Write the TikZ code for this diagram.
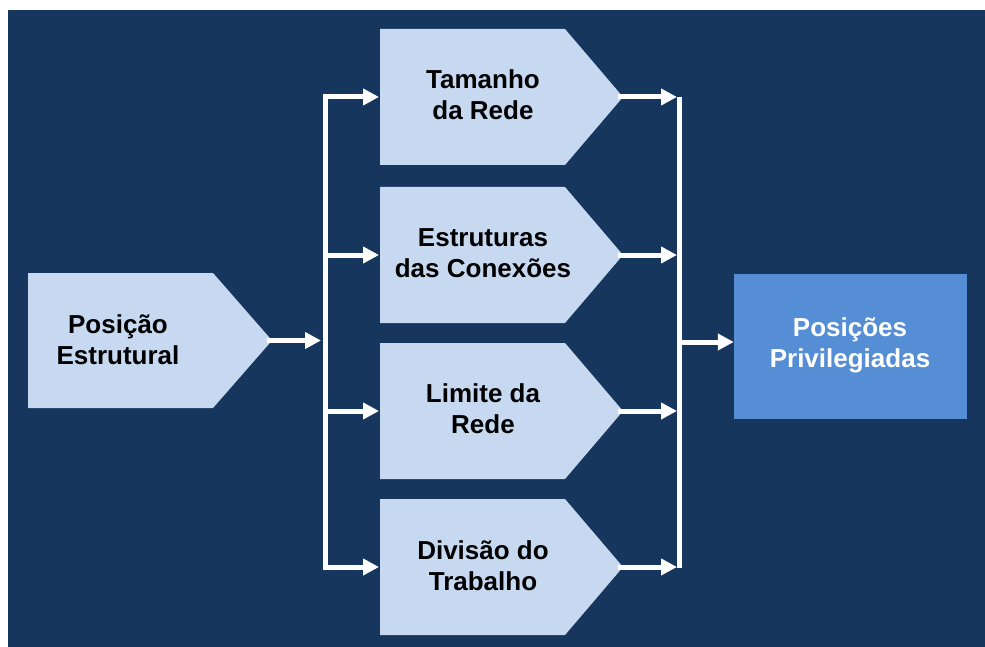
\documentclass[tikz,border=0pt]{standalone}
\usepackage{fontspec}
\setmainfont{Liberation Sans}
\usetikzlibrary{arrows.meta}
\definecolor{navy}{HTML}{17365D}
\definecolor{pale}{HTML}{C6D9F1}
\definecolor{midblue}{HTML}{558ED5}
\begin{document}
\begin{tikzpicture}[x=1pt,y=-1pt,
  pentfill/.style={fill=pale},
  lbl/.style={align=center,font=\fontsize{26}{31}\selectfont\bfseries,text=black,inner sep=0pt},
  conn/.style={draw=white,line width=5pt,-{Triangle[length=16pt,width=16pt]}},
  busline/.style={draw=white,line width=5pt}]
\useasboundingbox (0,0) rectangle (985,647);
\fill[white] (0,0) rectangle (985,647);
\fill[navy] (8,10) rectangle (985,647);
% source pentagon
\path[pentfill] (28,273) -- (213,273) -- (272,340.5) -- (213,408) -- (28,408) -- cycle;
\coordinate (srctip) at (267,340.5);
\node[lbl] (src) at (118,340) {Posição\\Estrutural};
% middle pentagons
\foreach \i/\yc in {1/97,2/255,3/411,4/567}{
  \path[pentfill] (380,\yc-68) -- (565,\yc-68) -- (623,\yc) -- (565,\yc+68) -- (380,\yc+68) -- cycle;
  \coordinate (in\i) at (379,\yc);
  \coordinate (tip\i) at (618,\yc);
  \coordinate (lb\i) at (325,\yc);
  \coordinate (rb\i) at (677,\yc);
}
\node[lbl] (t1) at (483,95) {Tamanho\\da Rede};
\node[lbl] (t2) at (483,253) {Estruturas\\das Conexões};
\node[lbl] (t3) at (483,409) {Limite da\\Rede};
\node[lbl] (t4) at (483,566) {Divisão do\\Trabalho};
% target box
\node[fill=midblue,minimum width=233pt,minimum height=145pt,inner sep=0pt] (dst) at (850.5,346.5) {};
\node[lbl,text=white] (dstlbl) at (850,345) {Posições\\Privilegiadas};
% buses
\draw[busline,line cap=rect] (lb1) -- (lb4);
\draw[busline] (679,97) -- (679,567.5);
\coordinate (lbin) at (321,340.5);
\coordinate (rbout) at (681,342);
% connectors
\draw[conn] (srctip) -- (lbin);
\foreach \i in {1,2,3,4}{
  \draw[conn] (lb\i) -- (in\i);
  \draw[conn] (tip\i) -- (rb\i);
}
\draw[conn] (rbout) -- (rbout -| dst.west);
\end{tikzpicture}
\end{document}
